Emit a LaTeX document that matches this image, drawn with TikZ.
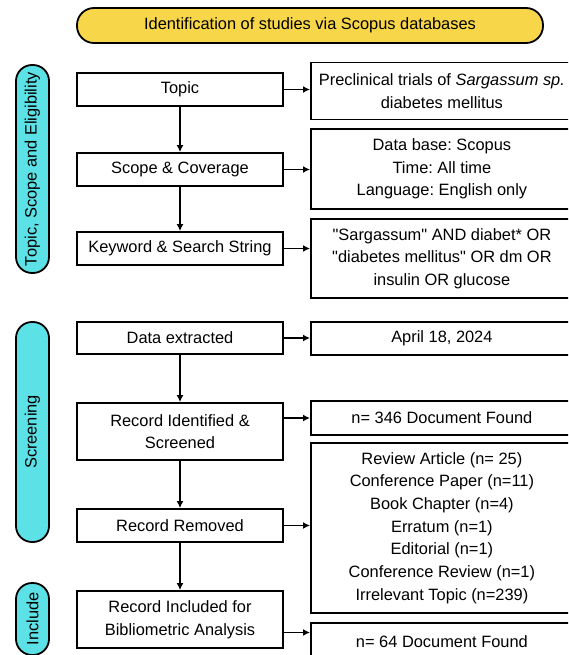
\documentclass[tikz,border=0pt]{standalone}
\usepackage{fontspec}
\setmainfont{Liberation Sans}
\frenchspacing
\usetikzlibrary{arrows.meta}
\definecolor{pillcyan}{RGB}{92,225,230}
\definecolor{titleyellow}{RGB}{248,214,73}

\begin{document}
\begin{tikzpicture}[x=1pt,y=-1pt,
  txt/.style={font=\fontsize{16.4}{22.7}\selectfont},
  lbox/.style={txt,draw,line width=1.8pt,minimum width=206pt,align=center,inner sep=0pt},
  rbox/.style={txt,draw,line width=1.8pt,anchor=west,minimum width=262pt,align=center,inner sep=0pt},
  pill/.style={txt,draw,line width=1.8pt,fill=pillcyan,rotate=90,minimum height=33pt,rounded corners=16pt,inner sep=0pt},
  arr/.style={line width=1.8pt,-{Latex[length=7pt,width=7pt]}}]
\useasboundingbox (0,0) rectangle (568,655);
\clip (0,0) rectangle (568,655);
\node[txt,draw,line width=1.8pt,fill=titleyellow,minimum width=466pt,minimum height=35pt,rounded corners=17pt] (title) at (310,25.5) {Identification of studies via Scopus databases};
% phases
\node[pill,minimum width=208pt] (p1) at (32.5,169) {Topic, Scope and Eligibility};
\node[pill,minimum width=220pt] (p2) at (32.5,432) {Screening};
\node[pill,minimum width=72pt] (p3) at (32.5,619) {Include};
% steps
\node[lbox,minimum height=33pt] (topic) at (180,89.5) {Topic};
\node[lbox,minimum height=33pt] (scope) at (180,169.5) {Scope \& Coverage};
\node[lbox,minimum height=33pt] (keyword) at (180,248.5) {Keyword \& Search String};
\node[lbox,minimum height=32pt] (extract) at (180,338) {Data extracted};
\node[lbox,minimum height=57pt] (ident) at (180,431.5) {Record Identified \&\\Screened};
\node[lbox,minimum height=33pt] (removed) at (180,525.5) {Record Removed};
\node[lbox,minimum height=57pt] (incl) at (180,619.5) {Record Included for\\Bibliometric Analysis};
% results
\node[rbox,minimum height=57pt] (r1) at (310,91) {Preclinical trials of \textit{Sargassum sp.}\\diabetes mellitus};
\node[rbox,minimum height=80pt] (r2) at (310,169) {Data base: Scopus\\Time: All time\\Language: English only};
\node[rbox,minimum height=79pt] (r3) at (310,258.5) {\textquotedbl Sargassum\textquotedbl{} AND diabet* OR\\\textquotedbl diabetes mellitus\textquotedbl{} OR dm OR\\insulin OR glucose};
\node[rbox,minimum height=33pt] (r4) at (310,338.5) {April 18, 2024};
\node[rbox,minimum height=34pt] (r5) at (310,418) {n= 346 Document Found};
\node[rbox,minimum height=170pt] (r6) at (310,528) {Review Article (n= 25)\\Conference Paper (n=11)\\Book Chapter (n=4)\\Erratum (n=1)\\Editorial (n=1)\\Conference Review (n=1)\\Irrelevant Topic (n=239)};
\node[rbox,minimum height=38pt] (r7) at (310,642) {n= 64 Document Found};
% arrows
\foreach \a/\b in {topic/scope,scope/keyword,extract/ident,ident/removed,removed/incl}
  \draw[arr] (\a) -- (\b);
\foreach \a/\b in {topic/r1,scope/r2,keyword/r3,extract/r4,removed/r6}
  \draw[arr] (\a.east) -- (\a.east -| \b.west);
\draw[arr] (ident.east |- r5.west) -- (r5.west);
\draw[arr] ([yshift=-13pt]incl.east) -- ([yshift=-13pt]incl.east -| r7.west);
\end{tikzpicture}
\end{document}
